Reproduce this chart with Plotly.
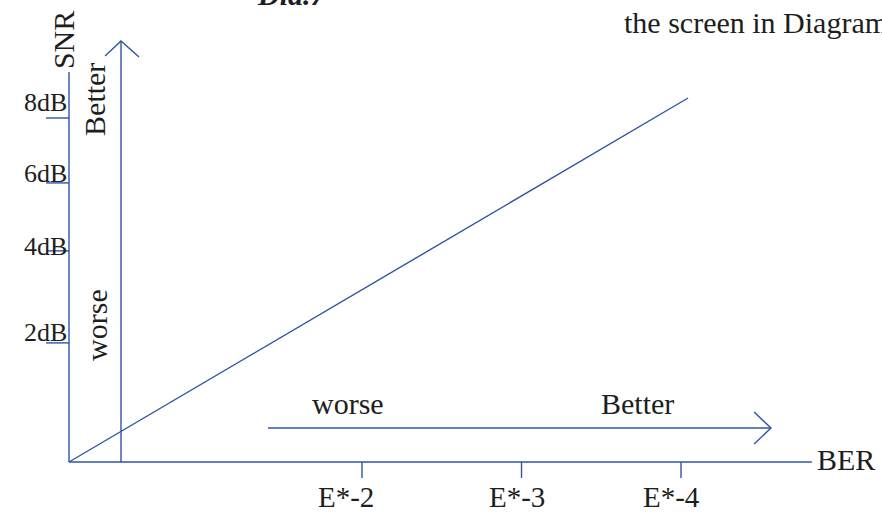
import plotly.graph_objects as go

# SNR axis (dB) and BER axis (decades, E*-n at x = n)
snr_labels = ["2dB", "4dB", "6dB", "8dB"]
snr_tick_y = [2.77, 4.91, 6.49, 8.0]
snr_label_y = [3.02, 5.02, 6.70, 8.35]

ber_labels = ["E*-2", "E*-3", "E*-4"]
ber_tick_x = [2.0, 3.0, 4.0]
ber_label_x = [1.90, 2.97, 3.94]

origin = (0.163, 0.0)
snr_axis_top = 9.07
ber_axis_end = 4.82

# SNR vs BER trend line
trend_x = [0.163, 4.044]
trend_y = [0.0, 8.465]

# "Better" direction arrows
up_arrow_x = [0.489, 0.489]
up_arrow_y = [0.0, 9.79]
right_arrow_x = [1.411, 4.564]
right_arrow_y = [0.79, 0.79]

BLUE = "#2f55a6"
FONT = "Liberation Serif"
TXT = "#1e1e1e"

fig = go.Figure()


def seg(xs, ys, width=1.4):
    fig.add_trace(go.Scatter(x=xs, y=ys, mode="lines",
                             line=dict(color=BLUE, width=width),
                             hoverinfo="skip", showlegend=False))


# axes
seg([origin[0], origin[0], None, origin[0], ber_axis_end],
    [snr_axis_top, origin[1], None, origin[1], origin[1]])

# tick marks
tx, ty = [], []
for y in snr_tick_y:
    tx += [0.019, origin[0], None]
    ty += [y, y, None]
for x in ber_tick_x:
    tx += [x, x, None]
    ty += [0.0, -0.37, None]
seg(tx, ty)

# trend line
seg(trend_x, trend_y)

# vertical arrow with head
seg(up_arrow_x, up_arrow_y)
seg([0.389, up_arrow_x[1], 0.602], [9.44, up_arrow_y[1], 9.42])

# horizontal arrow with head
seg(right_arrow_x, right_arrow_y)
seg([4.458, right_arrow_x[1], 4.458], [1.163, right_arrow_y[1], 0.419])


def note(text, x, y, size=30, angle=0, xanchor="center", yanchor="middle",
         bold=False, italic=False):
    if bold:
        text = "<b>" + text + "</b>"
    if italic:
        text = "<i>" + text + "</i>"
    fig.add_annotation(x=x, y=y, text=text, showarrow=False, textangle=angle,
                       xanchor=xanchor, yanchor=yanchor,
                       font=dict(family=FONT, size=size, color=TXT))


for lab, y in zip(snr_labels, snr_label_y):
    note(lab, 0.0125, y, size=26)
for lab, x in zip(ber_labels, ber_label_x):
    note(lab, x, -0.81, size=29)

note("SNR", 0.125, 9.81, angle=-90)
note("Better", 0.326, 8.42, angle=-90)
note("worse", 0.339, 3.19, angle=-90)
note("worse", 1.912, 1.37)
note("Better", 3.724, 1.35)
note("BER", 4.84, 0.05, xanchor="left")
note("the screen in Diagram", 3.63, 10.23, xanchor="left")
note("Dia.7", 1.329, 10.44, xanchor="left", yanchor="bottom",
     bold=True, italic=True)

fig.update_layout(
    width=882, height=514,
    margin=dict(l=0, r=0, t=0, b=0),
    paper_bgcolor="white", plot_bgcolor="white",
    xaxis=dict(range=[-0.2696, 5.260], visible=False, fixedrange=True),
    yaxis=dict(range=[-1.209, 10.744], visible=False, fixedrange=True),
)

fig.write_html("out.html", config={"displayModeBar": False},
               post_script="document.body.style.margin='0';")
